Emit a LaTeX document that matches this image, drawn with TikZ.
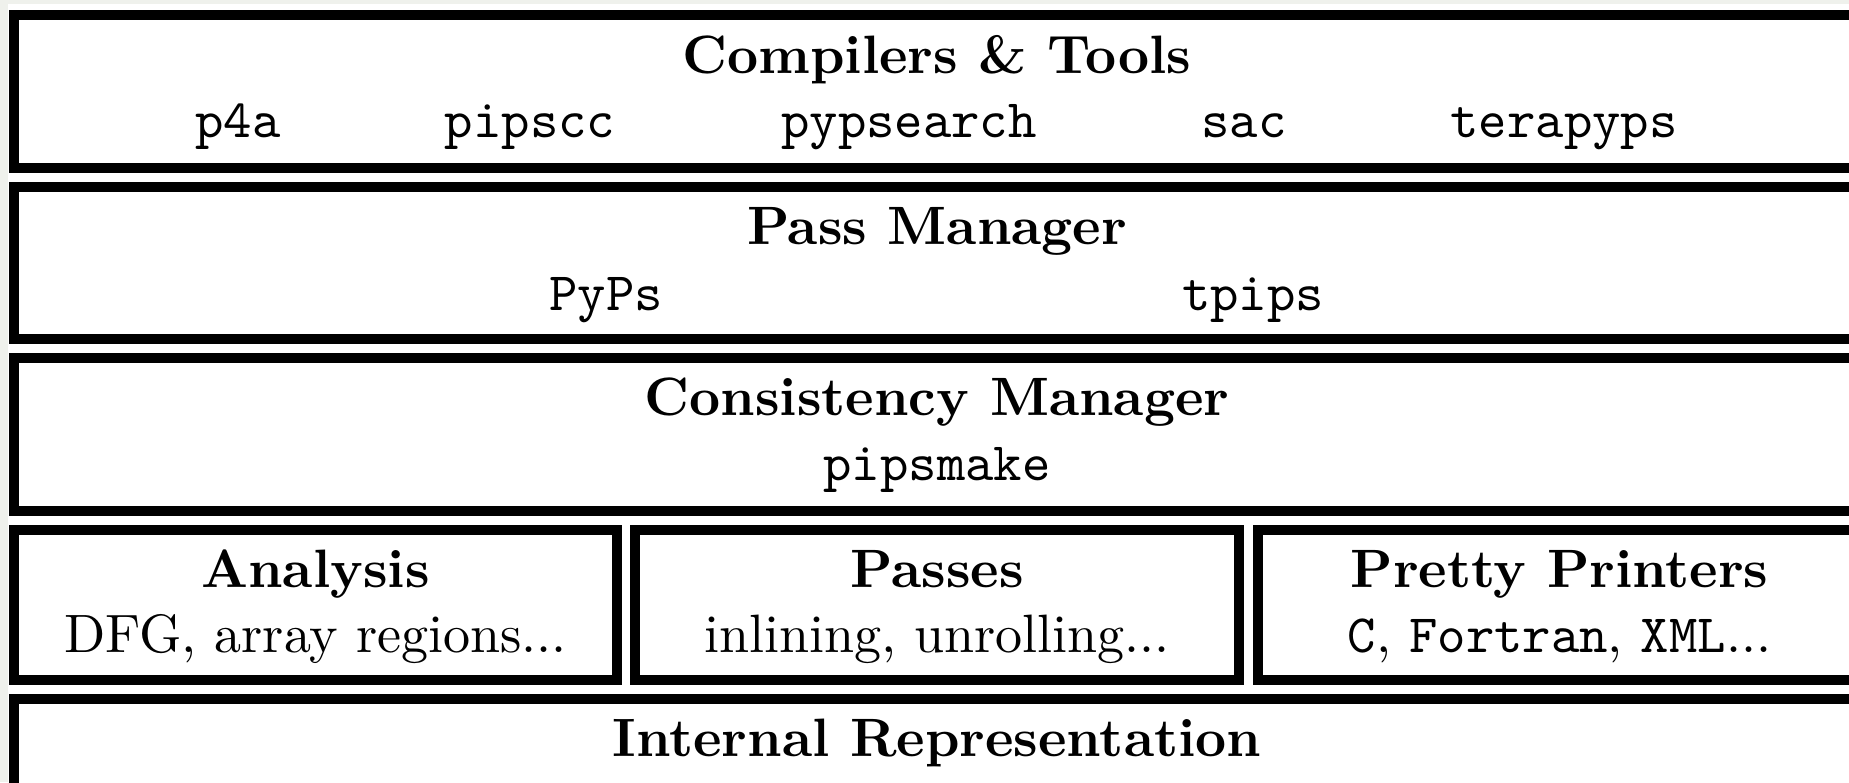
\documentclass[tikz,border=0pt]{standalone}
\definecolor{pagegrey}{RGB}{239,241,236}
\begin{document}
\begin{tikzpicture}[x=0.185pt,y=-0.185pt,
  frame/.style={draw=black,line width=1.85pt},
  head/.style={anchor=base,inner sep=0pt,font=\bfseries},
  item/.style={anchor=base,inner sep=0pt,font=\ttfamily},
  desc/.style={anchor=base,inner sep=0pt}]
\useasboundingbox (0,0) rectangle (1849,782);
\fill[pagegrey] (0,0) rectangle (1849,782);
\clip (0,0) rectangle (1849,782);
\fill[white] (8,4) rectangle (1849,782);
% frames
\draw[frame] (14,15) rectangle (1861,168);
\draw[frame] (14,187) rectangle (1861,339);
\draw[frame] (14,358) rectangle (1861,511);
\draw[frame] (14,530) rectangle (617,680);
\draw[frame] (635,530) rectangle (1239,680);
\draw[frame] (1258,530) rectangle (1861,680);
\draw[frame] (14,699) rectangle (1861,852);
% row 1
\node[head] (ct) at (937,73) {Compilers \& Tools};
\node[item] (p4a) at (238,137) {p4a};
\node[item] (pipscc) at (530,137) {pipscc};
\node[item] (pypsearch) at (909,137) {pypsearch};
\node[item] (sac) at (1244,137) {sac};
\node[item] (terapyps) at (1564,137) {terapyps};
% row 2
\node[head] (pm) at (937,244) {Pass Manager};
\node[item] (pyps) at (606,310) {PyPs};
\node[item] (tpips) at (1253,310) {tpips};
% row 3
\node[head] (cm) at (937,415) {Consistency Manager};
\node[item] (pipsmake) at (937,480) {pipsmake};
% row 4
\node[head] (an) at (315.5,587) {Analysis};
\node[desc] (and) at (315.5,652) {DFG, array regions...};
\node[head] (pa) at (937,587) {Passes};
\node[desc] (pad) at (937,652) {inlining, unrolling...};
\node[head] (pp) at (1559.5,587) {Pretty Printers};
\node[desc] (ppd) at (1559.5,652) {\texttt{C}, \texttt{Fortran}, \texttt{XML}...};
% row 5
\node[head] (ir) at (937,756) {Internal Representation};
\end{tikzpicture}
\end{document}
